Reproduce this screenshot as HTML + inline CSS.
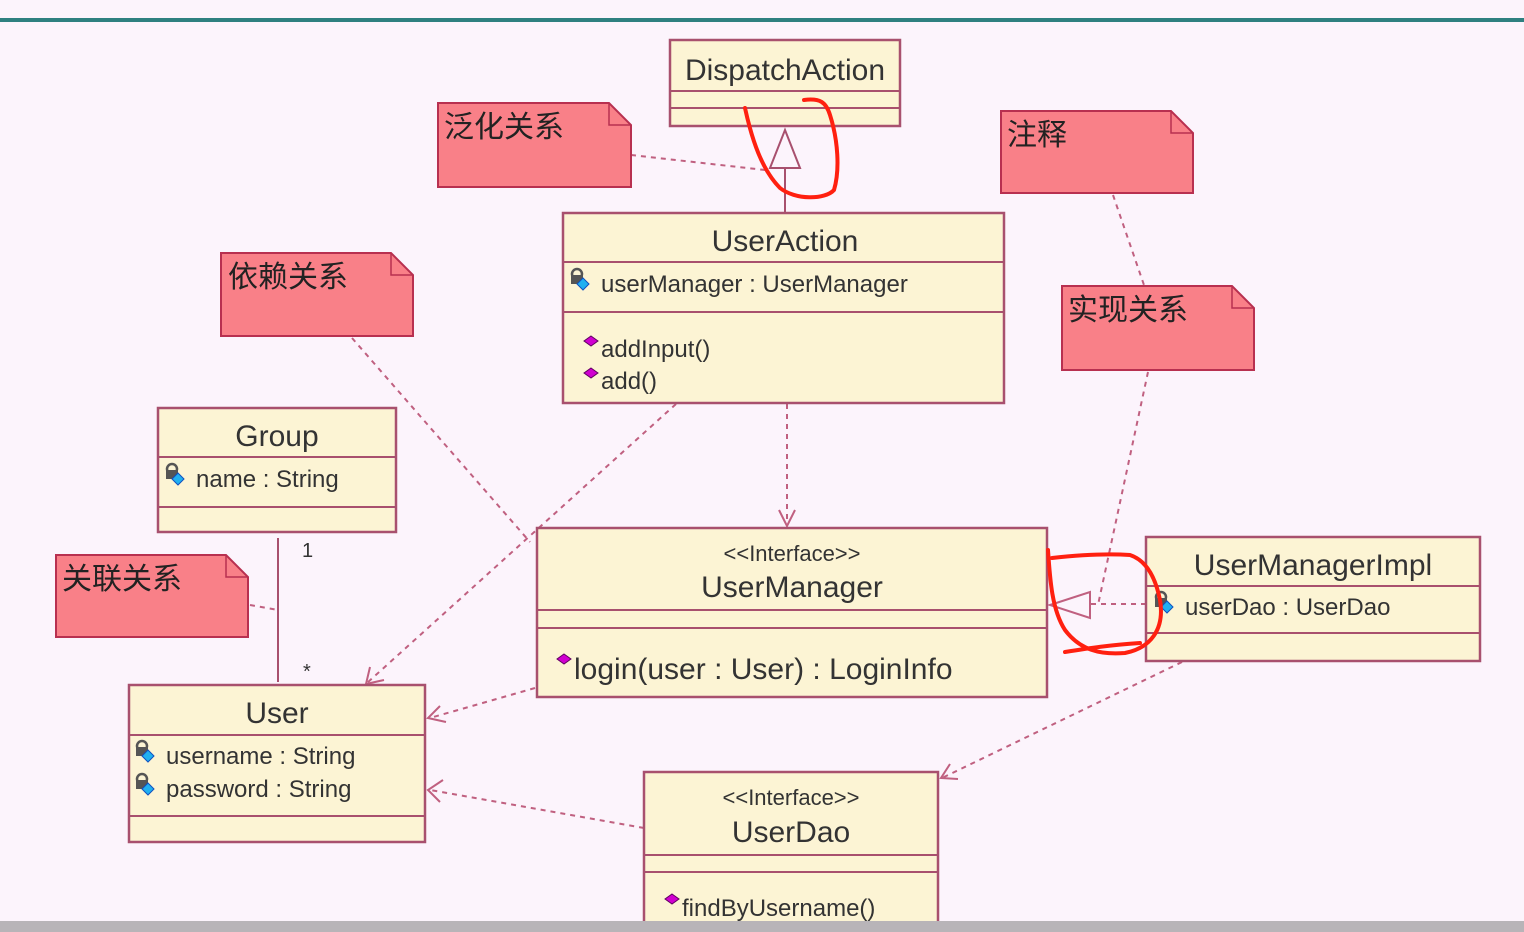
<!DOCTYPE html>
<html><head><meta charset="utf-8"><style>
html,body{margin:0;padding:0;background:#fcf4fc;}
svg{display:block;}
text{font-family:"Liberation Sans","Noto Sans CJK SC",sans-serif;fill:#333;}
.c{fill:#fcf4d4;stroke:#a8506e;stroke-width:2.5;}
.l{stroke:#a8506e;stroke-width:2;}
.n{fill:#f98088;stroke:#b83050;stroke-width:2;}
.d{stroke:#c06080;stroke-width:2;stroke-dasharray:5,5;fill:none;}
.a{stroke:#c06080;stroke-width:2;fill:none;}
.r{stroke:#ff2010;stroke-width:4;fill:none;stroke-linecap:round;stroke-linejoin:round;}
.cj{font-family:"Noto Sans CJK SC","WenQuanYi Zen Hei",sans-serif;font-size:30px;fill:#222;}
</style></head><body>
<svg width="1524" height="932" viewBox="0 0 1524 932">
<defs>
<g id="lock"><circle cx="6" cy="-8" r="5" fill="none" stroke="#555" stroke-width="2.5"/><rect x="0" y="-7" width="12" height="9" fill="#555"/><path d="M12 -4 l6 6 -6 6 -6 -6z" fill="#20b0f0" stroke="#1050c0" stroke-width="1"/></g>
<path id="op" d="M0 -10 l7 5 -7 5 -7 -5z" fill="#d000d0" stroke="#600060" stroke-width="1"/>
</defs>
<rect x="0" y="18" width="1524" height="4" fill="#2e8080"/>
<rect x="0" y="921" width="1524" height="11" fill="#b8b4b8"/>

<!-- connectors -->
<line x1="785" y1="213" x2="785" y2="168" class="l"/>
<path d="M785 130 L770 168 L800 168 Z" fill="#fcf4fc" stroke="#a8506e" stroke-width="2"/>
<line x1="631" y1="155" x2="765" y2="170" class="d"/>
<line x1="1113" y1="195" x2="1145" y2="288" class="d"/>
<line x1="1148" y1="372" x2="1098" y2="605" class="d"/>
<line x1="352" y1="338" x2="530" y2="542" class="d"/>
<line x1="278" y1="538" x2="278" y2="682" class="l"/>
<text x="302" y="557" font-size="20">1</text>
<text x="303" y="678" font-size="20">*</text>
<line x1="250" y1="605" x2="278" y2="610" class="d"/>
<line x1="676" y1="404" x2="367" y2="683" class="d"/>
<path d="M370 667 L366 684 L384 680" class="a"/>
<line x1="787" y1="404" x2="787" y2="526" class="d"/>
<path d="M779 510 L787 526 L795 510" class="a"/>
<line x1="535" y1="688" x2="430" y2="718" class="d"/>
<path d="M440 706 L428 718 L446 722" class="a"/>
<line x1="1146" y1="604" x2="1090" y2="604" class="d"/>
<path d="M1050 605 L1090 592 L1090 618 Z" fill="#fcf4fc" stroke="#c06080" stroke-width="2"/>
<line x1="1182" y1="662" x2="942" y2="778" class="d"/>
<path d="M950 764 L941 778 L958 779" class="a"/>
<line x1="644" y1="828" x2="430" y2="790" class="d"/>
<path d="M443 780 L428 790 L440 802" class="a"/>

<!-- notes -->
<g><path d="M438 103 H609 L631 125 V187 H438 Z" class="n"/><path d="M609 103 V125 H631" fill="none" stroke="#b83050" stroke-width="1.5"/><text x="444" y="137" class="cj">泛化关系</text></g>
<g><path d="M1001 111 H1171 L1193 133 V193 H1001 Z" class="n"/><path d="M1171 111 V133 H1193" fill="none" stroke="#b83050" stroke-width="1.5"/><text x="1007" y="145" class="cj">注释</text></g>
<g><path d="M221 253 H391 L413 275 V336 H221 Z" class="n"/><path d="M391 253 V275 H413" fill="none" stroke="#b83050" stroke-width="1.5"/><text x="228" y="287" class="cj">依赖关系</text></g>
<g><path d="M1062 286 H1232 L1254 308 V370 H1062 Z" class="n"/><path d="M1232 286 V308 H1254" fill="none" stroke="#b83050" stroke-width="1.5"/><text x="1068" y="320" class="cj">实现关系</text></g>
<g><path d="M56 555 H226 L248 577 V637 H56 Z" class="n"/><path d="M226 555 V577 H248" fill="none" stroke="#b83050" stroke-width="1.5"/><text x="62" y="589" class="cj">关联关系</text></g>

<!-- classes -->
<rect x="670" y="40" width="230" height="86" class="c"/>
<line x1="670" y1="91" x2="900" y2="91" class="l"/><line x1="670" y1="108" x2="900" y2="108" class="l"/>
<text x="785" y="80" font-size="30" text-anchor="middle">DispatchAction</text>

<rect x="563" y="213" width="441" height="190" class="c"/>
<line x1="563" y1="262" x2="1004" y2="262" class="l"/><line x1="563" y1="312" x2="1004" y2="312" class="l"/>
<text x="785" y="251" font-size="30" text-anchor="middle">UserAction</text>
<use href="#lock" x="571" y="282"/><text x="601" y="292" font-size="24">userManager : UserManager</text>
<use href="#op" x="591" y="346"/><text x="601" y="357" font-size="24">addInput()</text>
<use href="#op" x="591" y="378"/><text x="601" y="389" font-size="24">add()</text>

<rect x="158" y="408" width="238" height="124" class="c"/>
<line x1="158" y1="457" x2="396" y2="457" class="l"/><line x1="158" y1="507" x2="396" y2="507" class="l"/>
<text x="277" y="446" font-size="30" text-anchor="middle">Group</text>
<use href="#lock" x="166" y="477"/><text x="196" y="487" font-size="24">name : String</text>

<rect x="537" y="528" width="510" height="169" class="c"/>
<line x1="537" y1="610" x2="1047" y2="610" class="l"/><line x1="537" y1="628" x2="1047" y2="628" class="l"/>
<text x="792" y="561" font-size="22" text-anchor="middle">&lt;&lt;Interface&gt;&gt;</text>
<text x="792" y="597" font-size="30" text-anchor="middle">UserManager</text>
<use href="#op" x="564" y="664"/><text x="574" y="679" font-size="30">login(user : User) : LoginInfo</text>

<rect x="1146" y="537" width="334" height="124" class="c"/>
<line x1="1146" y1="586" x2="1480" y2="586" class="l"/><line x1="1146" y1="633" x2="1480" y2="633" class="l"/>
<text x="1313" y="575" font-size="30" text-anchor="middle">UserManagerImpl</text>
<use href="#lock" x="1155" y="605"/><text x="1185" y="615" font-size="24">userDao : UserDao</text>

<rect x="129" y="685" width="296" height="157" class="c"/>
<line x1="129" y1="735" x2="425" y2="735" class="l"/><line x1="129" y1="816" x2="425" y2="816" class="l"/>
<text x="277" y="723" font-size="30" text-anchor="middle">User</text>
<use href="#lock" x="136" y="754"/><text x="166" y="764" font-size="24">username : String</text>
<use href="#lock" x="136" y="787"/><text x="166" y="797" font-size="24">password : String</text>

<rect x="644" y="772" width="294" height="170" class="c"/>
<line x1="644" y1="855" x2="938" y2="855" class="l"/><line x1="644" y1="872" x2="938" y2="872" class="l"/>
<text x="791" y="805" font-size="22" text-anchor="middle">&lt;&lt;Interface&gt;&gt;</text>
<text x="791" y="842" font-size="30" text-anchor="middle">UserDao</text>
<use href="#op" x="672" y="904"/><text x="682" y="916" font-size="24">findByUsername()</text>
<rect x="0" y="921" width="1524" height="11" fill="#b8b4b8"/>

<!-- red annotations -->
<path class="r" d="M745 108 C752 140 762 170 780 188 C795 200 825 200 834 190 C840 170 838 140 830 115 C826 102 820 98 804 100"/>
<path class="r" d="M1048 550 C1050 580 1052 610 1065 630 C1080 650 1100 655 1125 653 C1150 648 1165 630 1160 600 C1155 575 1145 560 1130 555 C1100 553 1070 556 1052 558 M1065 652 C1090 648 1110 645 1140 643"/>
</svg>
</body></html>
